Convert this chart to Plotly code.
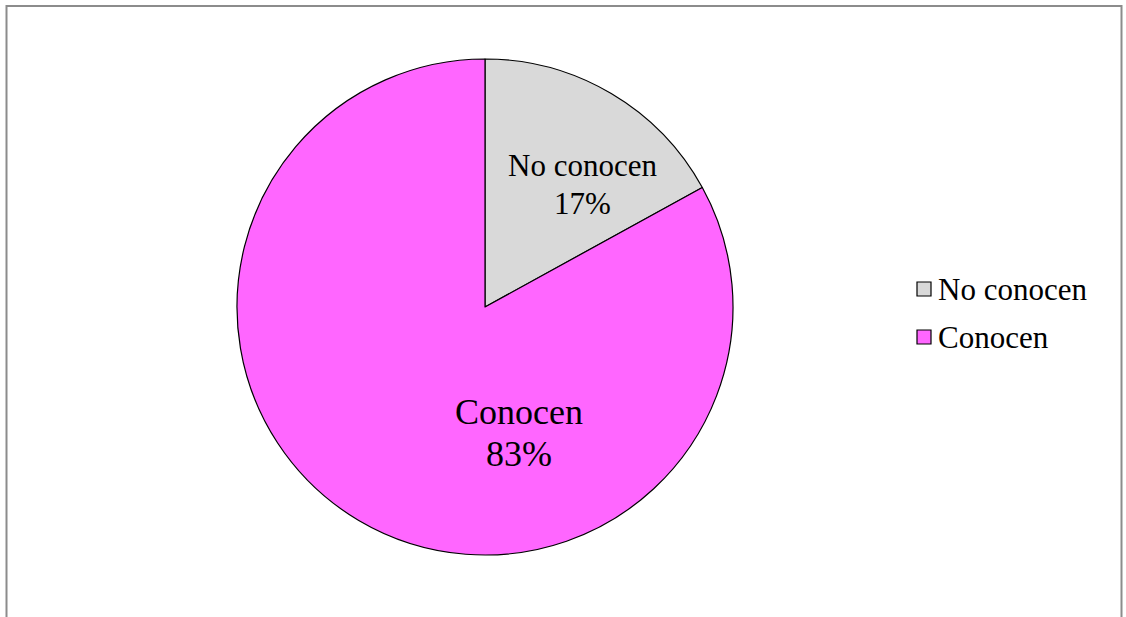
import plotly.graph_objects as go

labels = ["No conocen", "Conocen"]
values = [17, 83]
colors = ["#D9D9D9", "#FF66FF"]

W, H = 1126, 617
cx, cy, r = 485, 307, 248
FONT = "Liberation Serif, Times New Roman, serif"

# in-slice label layout: x centre, y centres of the two lines, font size
label_layout = [(582, 166, 204, 31), (519, 412, 454, 36)]

fig = go.Figure(go.Pie(
    labels=labels,
    values=values,
    sort=False,
    direction="clockwise",
    rotation=0,
    marker=dict(colors=colors, line=dict(color="black", width=1.2)),
    textinfo="none",
    domain=dict(x=[(cx - r) / W, (cx + r) / W], y=[1 - (cy + r) / H, 1 - (cy - r) / H]),
    hoverinfo="label+percent",
    showlegend=False,
))

total = sum(values)
annotations = []
for lab, val, (px, py1, py2, fs) in zip(labels, values, label_layout):
    pct = round(100 * val / total)
    for txt, py in ((lab, py1), (f"{pct}%", py2)):
        annotations.append(dict(
            x=px / W, y=1 - py / H, xref="paper", yref="paper",
            text=txt, showarrow=False,
            xanchor="center", yanchor="middle",
            font=dict(family=FONT, size=fs, color="black"),
        ))

shapes = [dict(type="rect", xref="paper", yref="paper",
               x0=6.5 / W, x1=1121.5 / W, y0=1 - 640 / H, y1=1 - 6 / H,
               line=dict(color="#8C8C8C", width=2), fillcolor="rgba(0,0,0,0)")]

# legend
leg_x, leg_y0, leg_dy, sq = 917, 289, 48, 14
for i, (lab, col) in enumerate(zip(labels, colors)):
    yc = leg_y0 + i * leg_dy
    shapes.append(dict(type="rect", xref="paper", yref="paper",
                       x0=leg_x / W, x1=(leg_x + sq) / W,
                       y0=1 - (yc + sq / 2) / H, y1=1 - (yc - sq / 2) / H,
                       line=dict(color="black", width=1.2), fillcolor=col))
    annotations.append(dict(
        x=(leg_x + sq + 5) / W, y=1 - yc / H, xref="paper", yref="paper",
        text=lab, showarrow=False, xanchor="left", yanchor="middle",
        font=dict(family=FONT, size=31, color="black"),
    ))

fig.update_layout(
    width=W, height=H,
    margin=dict(l=0, r=0, t=0, b=0),
    paper_bgcolor="white",
    font=dict(family=FONT, color="black"),
    showlegend=False,
    shapes=shapes,
    annotations=annotations,
)

fig.write_html("out.html")
